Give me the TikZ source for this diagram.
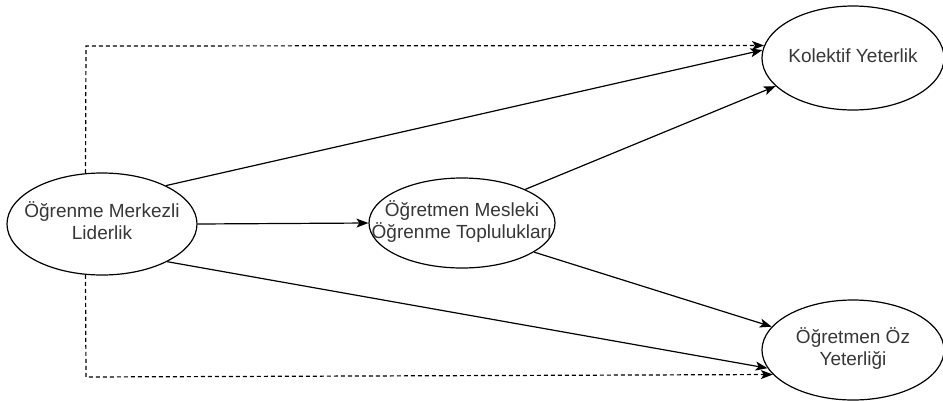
\documentclass[tikz,border=0pt]{standalone}
\usepackage{fontspec}
\setmainfont{Liberation Sans}
\usetikzlibrary{shapes.geometric,arrows.meta}
\definecolor{txtgray}{RGB}{55,55,55}
\newcommand{\ctext}[1]{\makebox[0pt][c]{\begin{tabular}{@{}c@{}}#1\end{tabular}}}
\begin{document}
\begin{tikzpicture}[x=1pt,y=-1pt,
  ell/.style={draw=black,line width=1.2pt,ellipse,inner sep=0pt,
    text=txtgray,font=\fontsize{19}{22}\selectfont},
  conn/.style={draw=black,line width=1.2pt,-{Stealth[length=12pt,width=9pt,inset=3pt]}},
  dconn/.style={conn,dash pattern=on 4pt off 3pt}]
\useasboundingbox[fill=white] (0,0) rectangle (943,400);
\node[ell,minimum width=190pt,minimum height=102pt] (L) at (102,224) {\ctext{Öğrenme Merkezli\\Liderlik}};
\node[ell,minimum width=186pt,minimum height=90pt] (M) at (462,223) {\ctext{Öğretmen Mesleki\\Öğrenme Toplulukları}};
\node[ell,minimum width=182pt,minimum height=104pt] (K) at (853,58) {\ctext{Kolektif Yeterlik}};
\node[ell,minimum width=182pt,minimum height=100pt] (Z) at (853,350) {\ctext{Öğretmen Öz\\Yeterliği}};
\coordinate (dt) at (86,46);
\coordinate (db) at (86,377);
\draw[conn] (L.east) -- (M.west);
\draw[conn] (L.31) -- (K.175);
\draw[conn] (M.28) -- (K.200);
\draw[conn] (M.-22) -- (Z.164);
\draw[conn] (L.-30) -- (Z.192);
\draw[dconn] (L.108) -- (dt) -- (K.172);
\draw[dconn] (L.-108) -- (db) -- (Z.197);
\end{tikzpicture}
\end{document}
